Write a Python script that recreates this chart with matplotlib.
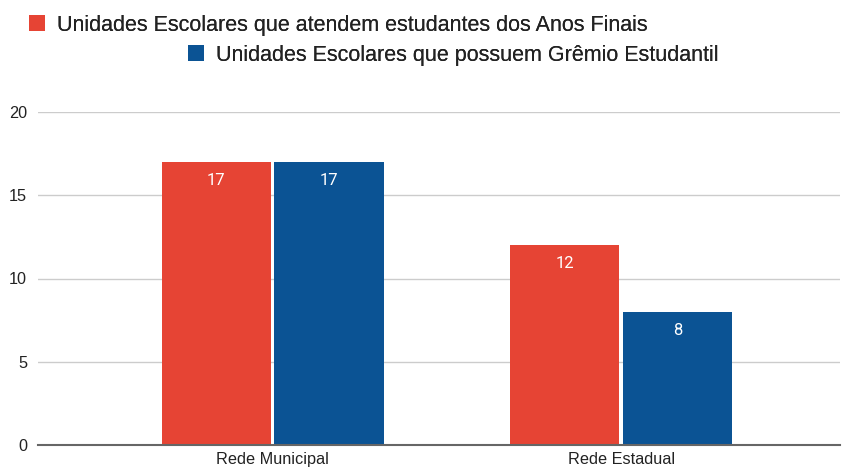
import matplotlib
matplotlib.use("Agg")
import matplotlib.pyplot as plt
from matplotlib.patches import Patch
import numpy as np

plt.rcParams['font.family'] = ['Liberation Sans', 'DejaVu Sans']

# data
categories = ["Rede Municipal", "Rede Estadual"]
series_names = ["Unidades Escolares que atendem estudantes dos Anos Finais",
                "Unidades Escolares que possuem Grêmio Estudantil"]
anos_finais = [17, 12]
gremio = [17, 8]
colors = ["#e64434", "#0b5394"]

W, H = 842, 471
fig = plt.figure(figsize=(W / 100, H / 100), dpi=100)
ax = fig.add_axes([38 / W, (H - 445) / H, (840 - 38) / W, (445 - 112) / H])

x = np.arange(len(categories))
width = 0.313
offset = 0.162
bars1 = ax.bar(x - offset, anos_finais, width, color=colors[0], zorder=3)
bars2 = ax.bar(x + offset, gremio, width, color=colors[1], zorder=3)

for bars in (bars1, bars2):
    for b in bars:
        ax.annotate(f"{int(b.get_height())}",
                    (b.get_x() + b.get_width() / 2, b.get_height()),
                    xytext=(0, -18.5), textcoords="offset pixels",
                    ha="center", va="center", color="white", fontsize=12,
                    family=["Roboto", "DejaVu Sans"], zorder=4)

ax.set_ylim(0, 20)
ax.set_xlim(-0.673, 1.628)
ax.set_yticks([0, 5, 10, 15, 20])
ax.set_xticks(x)
ax.set_xticklabels(categories)
ax.yaxis.grid(True, color="#cccccc", linewidth=1, zorder=0)
ax.tick_params(axis="both", length=0, labelsize=11.7, colors="#222222")
ax.tick_params(axis="y", pad=8)
ax.tick_params(axis="x", pad=5)
for s in ["top", "right", "left"]:
    ax.spines[s].set_visible(False)
ax.spines["bottom"].set_color("#666666")
ax.spines["bottom"].set_linewidth(1.5)
ax.spines["bottom"].set_zorder(5)

# two legend rows, as in the original layout
leg_pos = [(29, 25), (188, 55)]
for name, col, (lx, ly) in zip(series_names, colors, leg_pos):
    leg = fig.legend(handles=[Patch(facecolor=col)], labels=[name],
                     loc="center left", bbox_to_anchor=(lx / W, 1 - ly / H),
                     frameon=False, borderpad=0, borderaxespad=0,
                     handlelength=0.75, handleheight=0.75, handletextpad=0.56,
                     fontsize=15.5, labelcolor="#222222")
    fig.add_artist(leg)

fig.savefig("out.png", dpi=100)
